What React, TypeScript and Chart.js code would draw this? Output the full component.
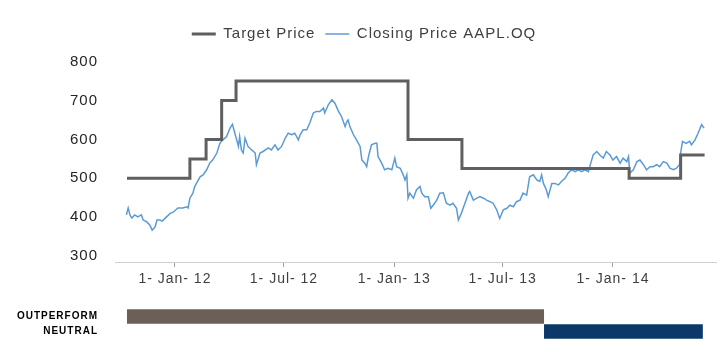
import React, { useEffect, useRef } from 'react';
import { Chart, registerables } from 'chart.js';

Chart.register(...registerables);

const FONT = "'Liberation Sans', Arial, Helvetica, sans-serif";

// x values are days counted from 1-Jan-12
const X_MIN = -100;
const X_MAX = 903;

const tickDays = [0, 182, 366, 547, 731];
const tickLabels = ['1- Jan- 12', '1- Jul- 12', '1- Jan- 13', '1- Jul- 13', '1- Jan- 14'];
const yTicks = [300, 400, 500, 600, 700, 800];

const targetDays = [-80, 25, 52, 78, 102, 389, 479, 758, 844, 884];
const targetPrices = [500, 550, 600, 700, 750, 600, 525, 500, 560, 560];

const closeDays = [
  -81, -78, -75, -72, -67, -62, -56, -53, -47, -42,
  -38, -33, -30, -25, -21, -14, -8, -3, 5, 13,
  20, 22, 25, 30, 33, 42, 47, 53, 58, 63,
  70, 75, 80, 86, 92, 96, 100, 103, 106, 108,
  111, 114, 117, 122, 128, 134, 136, 142, 147, 156,
  161, 167, 172, 178, 184, 189, 195, 200, 206, 209,
  214, 220, 225, 231, 236, 242, 248, 250, 256, 262,
  267, 273, 278, 284, 287, 289, 292, 298, 303, 309,
  312, 317, 320, 323, 328, 334, 337, 339, 345, 350,
  356, 362, 367, 370, 376, 381, 384, 387, 389, 392,
  398, 403, 409, 412, 417, 423, 427, 431, 437, 442,
  448, 453, 459, 464, 470, 473, 478, 484, 490, 492,
  498, 504, 509, 515, 520, 526, 531, 537, 542, 548,
  554, 559, 565, 570, 576, 581, 587, 592, 598, 604,
  609, 612, 615, 620, 623, 629, 634, 640, 645, 651,
  656, 662, 668, 673, 679, 684, 690, 694, 698, 704,
  709, 715, 720, 726, 731, 737, 743, 748, 754, 757,
  759, 765, 771, 776, 782, 787, 793, 798, 804, 809,
  815, 821, 826, 832, 837, 842, 844, 847, 853, 859,
  862, 868, 873, 879, 883,
];
const closePrices = [
  406, 424, 406, 398, 406, 401, 406, 393, 388, 380,
  367, 375, 393, 393, 390, 401, 410, 413, 424, 424,
  427, 424, 449, 462, 479, 504, 509, 522, 539, 547,
  565, 590, 599, 607, 629, 639, 616, 599, 582, 607,
  573, 565, 603, 582, 573, 565, 535, 565, 569, 578,
  573, 586, 573, 582, 603, 616, 612, 616, 599, 612,
  625, 625, 642, 668, 672, 672, 681, 668, 689, 702,
  693, 672, 659, 633, 646, 650, 633, 612, 599, 582,
  547, 539, 530, 556, 586, 590, 590, 556, 539, 522,
  526, 522, 552, 530, 526, 509, 496, 509, 449, 462,
  449, 470, 479, 462, 453, 453, 423, 431, 444, 462,
  463, 436, 431, 436, 423, 393, 410, 436, 462, 466,
  444, 449, 453, 449, 444, 440, 436, 419, 397, 419,
  423, 431, 427, 440, 444, 462, 457, 504, 509, 496,
  492, 509, 487, 470, 453, 487, 487, 483, 492, 500,
  513, 522, 517, 522, 517, 522, 517, 539, 560, 569,
  560, 552, 569, 560, 547, 556, 539, 552, 543, 556,
  513, 522, 543, 547, 535, 522, 530, 530, 535, 530,
  543, 539, 526, 522, 526, 535, 565, 595, 590, 595,
  586, 599, 616, 638, 629,
];

const ratingLabels = ['OUTPERFORM', 'NEUTRAL'];
const ratingStart = [-80, 616];
const ratingEnd = [616, 881];
const ratingColors = ['#6b5f57', '#0b3868'];

const lsPlugin = (ls: string) => ({
  id: 'letterSpacingPlugin',
  beforeUpdate(chart: any) { chart.ctx.letterSpacing = ls; },
  beforeLayout(chart: any) { chart.ctx.letterSpacing = ls; },
  beforeDraw(chart: any) { chart.ctx.letterSpacing = ls; },
});

export default function App() {
  const topRef = useRef<HTMLCanvasElement | null>(null);
  const botRef = useRef<HTMLCanvasElement | null>(null);

  useEffect(() => {
    const top = new Chart(topRef.current as HTMLCanvasElement, {
      type: 'line',
      data: {
        datasets: [
          {
            label: 'Target Price',
            data: targetDays.map((d, i) => ({ x: d, y: targetPrices[i] })),
            borderColor: '#5f5f5f',
            backgroundColor: '#5f5f5f',
            borderWidth: 3,
            stepped: 'before',
            pointRadius: 0,
            fill: false,
          },
          {
            label: 'Closing Price AAPL.OQ',
            data: closeDays.map((d, i) => ({ x: d, y: closePrices[i] })),
            borderColor: '#5b9bd5',
            backgroundColor: '#5b9bd5',
            borderWidth: 1.5,
            pointRadius: 0,
            tension: 0,
            fill: false,
          },
        ],
      },
      options: {
        responsive: false,
        animation: false,
        layout: { padding: { left: 12, right: 5, top: 16.5, bottom: 0 } },
        plugins: {
          tooltip: { enabled: false },
          legend: {
            position: 'top',
            align: 'center',
            labels: {
              usePointStyle: true,
              pointStyle: 'line',
              pointStyleWidth: 24,
              color: '#404040',
              font: { family: FONT, size: 15 },
              padding: 10,
            },
          },
        },
        scales: {
          x: {
            type: 'linear',
            min: X_MIN,
            max: X_MAX,
            afterBuildTicks: (s: any) => { s.ticks = tickDays.map((v) => ({ value: v })); },
            afterFit: (s: any) => { s.height = 38; },
            ticks: {
              autoSkip: false,
              maxRotation: 0,
              padding: 4,
              color: '#404040',
              font: { family: FONT, size: 14 },
              callback: (v: any) => {
                const i = tickDays.indexOf(Number(v));
                return i >= 0 ? tickLabels[i] : '';
              },
            },
            grid: { drawOnChartArea: false, drawTicks: true, tickLength: 5, color: '#a0a0a0' },
            border: { color: '#d0d0d0', width: 1 },
          },
          y: {
            type: 'linear',
            min: 285,
            max: 826,
            afterBuildTicks: (s: any) => { s.ticks = yTicks.map((v) => ({ value: v })); },
            afterFit: (s: any) => { s.width = 103; },
            ticks: {
              padding: 17,
              color: '#262626',
              font: { family: FONT, size: 15 },
              callback: (v: any) => String(v),
            },
            grid: { display: false, drawTicks: false },
            border: { display: false },
          },
        },
      },
      plugins: [lsPlugin('1px')],
    } as any);

    const bot = new Chart(botRef.current as HTMLCanvasElement, {
      type: 'bar',
      data: {
        labels: ratingLabels,
        datasets: [
          {
            data: ratingStart.map((s, i) => [s, ratingEnd[i]]),
            backgroundColor: ratingColors,
            borderWidth: 0,
            barPercentage: 1,
            categoryPercentage: 0.97,
          },
        ],
      },
      options: {
        indexAxis: 'y',
        responsive: false,
        animation: false,
        layout: { padding: { left: 0, right: 5, top: 29, bottom: 31 } },
        plugins: { legend: { display: false }, tooltip: { enabled: false } },
        scales: {
          x: { type: 'linear', min: X_MIN, max: X_MAX, display: false },
          y: {
            afterFit: (s: any) => { s.width = 115; },
            ticks: {
              padding: 17,
              color: '#000000',
              font: { family: FONT, size: 10, weight: 'bold' },
            },
            grid: { display: false, drawTicks: false },
            border: { display: false },
          },
        },
      },
      plugins: [lsPlugin('1px')],
    } as any);

    return () => {
      top.destroy();
      bot.destroy();
    };
  }, []);

  return (
    <div style={{ position: 'absolute', left: 0, top: 0, width: 721, height: 353, overflow: 'hidden', background: '#ffffff' }}>
      <canvas
        ref={topRef}
        width={721}
        height={300}
        style={{ position: 'absolute', left: 0, top: 0, width: 721, height: 300 }}
      />
      <canvas
        ref={botRef}
        width={721}
        height={90}
        style={{ position: 'absolute', left: 0, top: 280, width: 721, height: 90 }}
      />
    </div>
  );
}
